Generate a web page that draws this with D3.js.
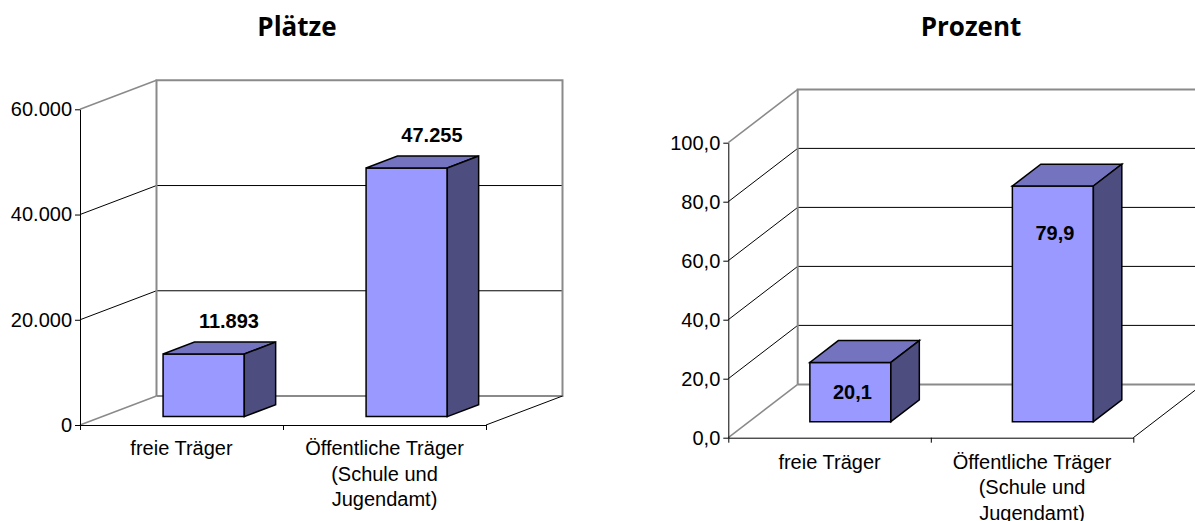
<!DOCTYPE html>
<html>
<head>
<meta charset="utf-8">
<script src="https://cdn.jsdelivr.net/npm/d3@7"></script>
<style>
  html, body { margin: 0; padding: 0; background: #fff; overflow: hidden; }
  svg { display: block; }
</style>
</head>
<body>
<svg id="chart" width="1195" height="521"></svg>
<script>
// ---- data ----
const categories = ["freie Träger", "Öffentliche Träger (Schule und Jugendamt)"];
const categoryLines = [["freie Träger"], ["Öffentliche Träger", "(Schule und", "Jugendamt)"]];
const plaetzeValues = [11893, 47255];
const prozentValues = [20.1, 79.9];
const plaetzeTicks = [0, 20000, 40000, 60000];
const prozentTicks = [0, 20, 40, 60, 80, 100];
const titles = ["Plätze", "Prozent"];

const de = d3.formatLocale({decimal: ",", thousands: ".", grouping: [3], currency: ["", " €"]});

const svg = d3.select("#chart");

const charts = [
  {
    title: titles[0], titleX: 297, values: plaetzeValues, ticks: plaetzeTicks,
    fmt: de.format(",.0f"),
    x0: 80, x1: 486, base: 425, top: 109.3,
    dx: 76.5, dy: -29, f0: 0.29, f1: 0.70,
    labelMode: "outside", labelRow: 23
  },
  {
    title: titles[1], titleX: 971, values: prozentValues, ticks: prozentTicks,
    fmt: de.format(".1f"),
    x0: 728.3, x1: 1133.3, base: 437.7, top: 142.7,
    dx: 69.4, dy: -53.3, f0: 0.30, f1: 0.71,
    labelMode: "inside", labelRow: 24
  }
];

const FRONT = "#9999FF", TOP = "#7373BF", SIDE = "#4D4D80";
const GRAY = "#8a8a8a";

charts.forEach(cfg => {
  const g = svg.append("g");
  const maxV = cfg.ticks[cfg.ticks.length - 1];
  const y = d3.scaleLinear().domain([0, maxV]).range([cfg.base, cfg.top]);
  const x = d3.scaleBand().domain(categories).range([cfg.x0, cfg.x1]).padding(0);
  const P = (px, v, f) => [px + f * cfg.dx, y(v) + f * cfg.dy];
  const line = (a, b, stroke, w) => g.append("line")
    .attr("x1", a[0]).attr("y1", a[1]).attr("x2", b[0]).attr("y2", b[1])
    .attr("stroke", stroke).attr("stroke-width", w);

  // title
  svg.append("text").attr("x", cfg.titleX).attr("y", 36)
    .attr("text-anchor", "middle")
    .style("font-family", "'Open Sans', sans-serif").style("font-weight", "bold")
    .style("font-size", "26px").text(cfg.title);

  // gridlines on back wall and left wall
  cfg.ticks.filter(t => t > 0 && t < maxV).forEach(t => {
    line(P(cfg.x0, t, 1), P(cfg.x1, t, 1), "#000", 1);
    line(P(cfg.x0, t, 0), P(cfg.x0, t, 1), "#000", 1);
  });
  // back wall frame
  g.append("path")
    .attr("d", d3.line()([P(cfg.x0, 0, 1), P(cfg.x0, maxV, 1), P(cfg.x1, maxV, 1), P(cfg.x1, 0, 1), P(cfg.x0, 0, 1)]))
    .attr("fill", "none").attr("stroke", GRAY).attr("stroke-width", 2);
  line(P(cfg.x0, maxV, 0), P(cfg.x0, maxV, 1), GRAY, 1.5);
  line(P(cfg.x0, 0, 0), P(cfg.x0, 0, 1), GRAY, 1.5);
  line(P(cfg.x1, 0, 0), P(cfg.x1, 0, 1), "#000", 1);

  // bars
  const bw = x.bandwidth() * 0.4;
  categories.forEach((c, i) => {
    const v = cfg.values[i];
    const cx = x(c) + x.bandwidth() / 2;
    const l = cx - bw / 2, r = cx + bw / 2;
    const bar = g.append("g").attr("stroke", "#000").attr("stroke-width", 1.5).attr("stroke-linejoin", "miter");
    const poly = (pts, fill) => bar.append("path").attr("d", d3.line()(pts) + "Z").attr("fill", fill);
    // front face
    poly([P(l, 0, cfg.f0), P(r, 0, cfg.f0), P(r, v, cfg.f0), P(l, v, cfg.f0)], FRONT);
    // top face
    poly([P(l, v, cfg.f0), P(r, v, cfg.f0), P(r, v, cfg.f1), P(l, v, cfg.f1)], TOP);
    // side face
    poly([P(r, 0, cfg.f0), P(r, 0, cfg.f1), P(r, v, cfg.f1), P(r, v, cfg.f0)], SIDE);

    // value label
    const frontTop = P(cx, v, cfg.f0);
    const frontBot = P(cx, 0, cfg.f0);
    let lx, ly;
    if (cfg.labelMode === "outside") {
      const backTop = P(cx, v, cfg.f1);
      lx = frontTop[0] + 0.33 * cfg.dx;
      ly = backTop[1] - 21;
    } else {
      lx = frontTop[0] + 2;
      ly = Math.min(frontTop[1] + 47, (frontTop[1] + frontBot[1]) / 2);
    }
    g.append("text").attr("x", lx).attr("y", ly)
      .attr("text-anchor", "middle").attr("dominant-baseline", "central")
      .style("font-family", "'Liberation Sans', Arial, sans-serif")
      .style("font-weight", "bold").style("font-size", "20px")
      .text(cfg.fmt(v));
  });

  // y axis
  const ya = g.append("g").attr("transform", `translate(${cfg.x0},0)`)
    .call(d3.axisLeft(y).tickValues(cfg.ticks).tickSize(5).tickSizeOuter(0).tickPadding(3).tickFormat(cfg.fmt));
  ya.selectAll("text").style("font-family", "'Liberation Sans', Arial, sans-serif").style("font-size", "20px").attr("fill", "#000");
  ya.selectAll("line, path").attr("stroke", "#000");

  // x axis (ticks at category boundaries)
  const xl = d3.scaleLinear().domain([0, categories.length]).range([cfg.x0, cfg.x1]);
  const xa = g.append("g").attr("transform", `translate(0,${cfg.base})`)
    .call(d3.axisBottom(xl).tickValues(d3.range(categories.length + 1)).tickSize(5).tickSizeOuter(0).tickFormat(""));
  xa.selectAll("line, path").attr("stroke", "#000");

  // category labels
  categories.forEach((c, i) => {
    const t = g.append("text")
      .attr("x", x(c) + x.bandwidth() / 2)
      .attr("y", cfg.base + cfg.labelRow)
      .attr("text-anchor", "middle").attr("dominant-baseline", "central")
      .style("font-family", "'Liberation Sans', Arial, sans-serif").style("font-size", "20px");
    categoryLines[i].forEach((ln, j) => {
      t.append("tspan").attr("x", x(c) + x.bandwidth() / 2).attr("dy", j === 0 ? 0 : 25.5).text(ln);
    });
  });
});
</script>
</body>
</html>
